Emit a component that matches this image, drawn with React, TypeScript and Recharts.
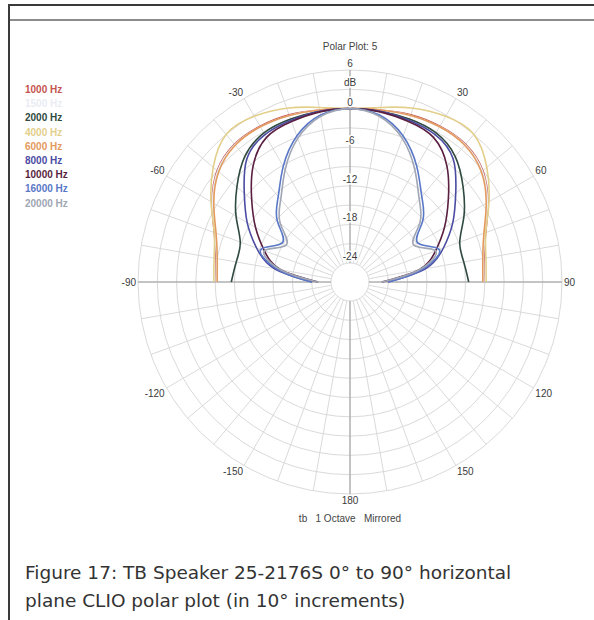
import React from 'react';
import { RadarChart, PolarGrid, PolarAngleAxis, PolarRadiusAxis, Radar, Legend, Curve } from 'recharts';

// angles of the full circle, data angle 0 = front (top), clockwise
const gridAngles = [
  -180, -170, -160, -150, -140, -130, -120, -110, -100, -90, -80, -70, -60, -50, -40, -30, -20, -10,
  0, 10, 20, 30, 40, 50, 60, 70, 80, 90, 100, 110, 120, 130, 140, 150, 160, 170,
];
const labelAngles = [-150, -120, -90, -60, -30, 30, 60, 90, 120, 150, -180];
const dbTicks = [-24, -21, -18, -15, -12, -9, -6, -3, 0, 3, 6];
const dbLabels = [-24, -18, -12, -6, 0, 6];

// measured at 0..90 deg in 10 deg steps, mirrored for the left side
const names = ['1000 Hz', '1500 Hz', '2000 Hz', '4000 Hz', '6000 Hz', '8000 Hz', '10000 Hz', '16000 Hz', '20000 Hz'];
const colors = ['#c4544e', '#e9edf3', '#2f4a3e', '#e3cf8a', '#e49a5c', '#4b4ba2', '#5a1f40', '#5a78c8', '#a0a6b4'];
const hz1000 = [0, 0.2, 0.7, 1.0, 1.0, 0, -2.2, -4.5, -5.8, -6.2];
const hz1500 = [0, 0.2, 0.6, 0.9, 0.9, -0.1, -2.3, -4.6, -5.9, -6.2];
const hz2000 = [0, 0, 0, -0.2, -1.5, -4.0, -6.5, -8.8, -9.0, -8.5];
const hz4000 = [0, 0.6, 1.8, 2.8, 3.0, 0.8, -2.0, -4.5, -5.5, -5.8];
const hz6000 = [0, 0.2, 0.6, 0.9, 0.8, -0.3, -2.5, -4.8, -6.0, -6.3];
const hz8000 = [0, 0, -0.2, -0.5, -2.0, -5.5, -8.5, -11.5, -15.0, -21.0];
const hz10000 = [0, -0.1, -0.4, -1.0, -3.5, -7.0, -10.0, -12.8, -16.0, -22.0];
const hz16000 = [0, -0.6, -2.8, -6.2, -9.6, -12.2, -14.8, -12.2, -15.5, -21.0];
const hz20000 = [0, -0.8, -3.2, -6.8, -10.2, -12.8, -15.5, -12.8, -16.0, -22.0];
const series = [hz1000, hz1500, hz2000, hz4000, hz6000, hz8000, hz10000, hz16000, hz20000];

const data = gridAngles.map((angle) => {
  const row: Record<string, number | undefined> = { angle };
  const a = Math.abs(angle);
  names.forEach((n, i) => {
    row[n] = a <= 90 ? series[i][a / 10] : undefined;
  });
  return row;
});

const font = '"Liberation Sans", Arial, sans-serif';

const OpenCurve = (props: any) => {
  const pts = (props.points || []).filter(
    (p: any) => Math.abs(p.payload.angle) <= 90 && Number.isFinite(p.x) && Number.isFinite(p.y),
  );
  return <Curve type="natural" points={pts} stroke={props.stroke} strokeWidth={1.6} fill="none" />;
};

const AngleTick = (props: any) => {
  const { x, y, payload, textAnchor } = props;
  if (!labelAngles.includes(payload.value)) return null;
  const s = Math.sin((payload.coordinate * Math.PI) / 180);
  const dy = s > 0.01 ? -1 : s < -0.01 ? 8 : 3.5;
  return (
    <text x={x} y={y} dy={dy} textAnchor={textAnchor} fontSize={10} fill="#3a3a3a" fontFamily={font}>
      {payload.value === -180 ? 180 : payload.value}
    </text>
  );
};

const RadialTick = (props: any) => {
  const { x, y, payload } = props;
  const v = payload.value;
  if (v !== 3 && !dbLabels.includes(v)) return null;
  return (
    <text x={x} y={y - 3} textAnchor="middle" fontSize={10} fill="#3a3a3a" fontFamily={font}
      stroke="#fff" strokeWidth={3} paintOrder="stroke">
      {v === 3 ? 'dB' : v}
    </text>
  );
};

const LegendList = ({ payload }: any) => {
  const items = [...(payload || [])].sort((a: any, b: any) => names.indexOf(a.value) - names.indexOf(b.value));
  return (
    <div style={{ font: `bold 10px ${font}`, lineHeight: '14.2px' }}>
      {items.map((e: any) => (
        <div key={e.value} style={{ color: e.color }}>{e.value}</div>
      ))}
    </div>
  );
};

export default function App() {
  return (
    <div style={{ position: 'absolute', left: 0, top: 0, width: 594, height: 620, background: '#fff', overflow: 'hidden' }}>
      <div style={{ position: 'absolute', left: 8, top: 4, width: 586, height: 2, background: '#3a3a3a' }} />
      <div style={{ position: 'absolute', left: 8, top: 4, width: 2, height: 616, background: '#3a3a3a' }} />
      <div style={{ position: 'absolute', left: 10, top: 19, width: 584, height: 2, background: '#8c8c8c' }} />
      <div style={{ position: 'absolute', left: 0, top: 41, width: 700, textAlign: 'center', font: `10px ${font}`, color: '#444' }}>
        Polar Plot: 5
      </div>
      <div style={{ position: 'absolute', left: 0, top: 513, width: 700, textAlign: 'center', font: `10px ${font}`, color: '#444', whiteSpace: 'pre' }}>
        {'tb   1 Octave   Mirrored'}
      </div>
      <div style={{ position: 'absolute', left: 0, top: 0 }}>
        <RadarChart width={594} height={540} data={data} cx={350} cy={282} innerRadius={19} outerRadius={212}
          startAngle={270} endAngle={-90}>
          <PolarGrid gridType="circle" stroke="#dadada" />
          <PolarGrid gridType="circle" stroke="#9a9a9a" polarAngles={[0, 90, 180, 270]} polarRadius={[]} />
          <PolarAngleAxis dataKey="angle" axisLine={false} tickLine={false} tickSize={2} tick={<AngleTick />} />
          <PolarRadiusAxis angle={90} type="number" domain={[-24, 6]} ticks={dbTicks} axisLine={false}
            tickLine={false} tick={<RadialTick />} />
          {names.map((n, i) => (
            <Radar key={n} name={n} dataKey={n} stroke={colors[i]} fill="none" isAnimationActive={false}
              shape={<OpenCurve />} />
          ))}
          <Legend layout="vertical" align="left" verticalAlign="top" content={<LegendList />}
            wrapperStyle={{ left: 25, top: 83, width: 80 }} />
        </RadarChart>
      </div>
      <div style={{ position: 'absolute', left: 25, top: 559, width: 569, font: '18.5px "DejaVu Sans", Verdana, sans-serif', color: '#333', lineHeight: '28px' }}>
        Figure 17: TB Speaker 25-2176S 0° to 90° horizontal<br />plane CLIO polar plot (in 10° increments)
      </div>
    </div>
  );
}
